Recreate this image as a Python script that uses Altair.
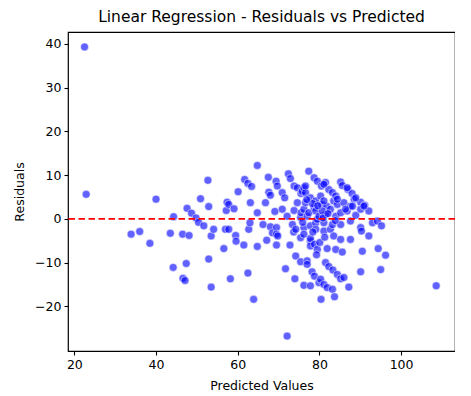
import altair as alt
import pandas as pd

predicted = [
    22.5, 22.9, 33.9, 36.0, 38.5, 40.0, 43.5, 44.3, 44.2, 46.5, 47.4, 46.6, 47.1, 47.6, 48.1,
    48.7, 49.8, 50.4, 50.9, 51.7, 52.7, 52.9, 52.9, 53.5, 53.5, 54.1, 56.6, 57.0, 57.2, 57.4,
    57.8, 57.8, 58.2, 59.1, 59.5, 59.6, 60.1, 61.5, 61.7, 62.5, 62.5, 62.7, 63.0, 63.1, 63.4,
    63.9, 64.8, 64.8, 64.8, 66.2, 66.8, 67.1, 67.5, 67.6, 68.0, 68.0, 68.5, 69.1, 69.4, 69.5,
    69.5, 69.5, 69.7, 69.8, 70.9, 70.9, 71.5, 71.7, 72.1, 72.1, 72.4, 72.8, 72.9, 73.4, 73.7,
    73.8, 73.8, 74.0, 74.2, 74.2, 74.6, 74.6, 75.4, 75.4, 75.4, 75.5, 75.5, 75.8, 76.2, 76.2,
    76.2, 76.2, 76.2, 76.6, 76.6, 76.6, 77.0, 77.0, 77.0, 77.4, 77.4, 77.8, 77.8, 77.8, 77.8,
    77.8, 77.8, 78.2, 78.7, 78.7, 78.8, 78.8, 79.1, 79.1, 79.1, 79.1, 79.5, 79.5, 79.5, 79.9,
    79.9, 80.1, 80.4, 80.3, 80.3, 80.5, 80.6, 81.1, 81.1, 81.1, 81.5, 81.5, 81.5, 81.8, 81.9,
    81.9, 82.3, 82.3, 82.7, 82.7, 83.2, 83.2, 83.2, 83.3, 83.5, 83.5, 83.7, 84.0, 84.0, 84.0,
    84.4, 84.4, 85.2, 85.2, 85.2, 85.2, 85.2, 85.6, 85.6, 86.0, 86.0, 86.8, 87.0, 87.2, 87.6,
    87.6, 87.6, 88.0, 88.5, 88.9, 90.1, 90.1, 90.1, 90.1, 90.3, 90.5, 91.1, 92.1, 92.1, 93.0,
    94.2, 94.4, 95.0, 95.2, 96.2, 108.6, 86.8, 88.9, 90.9, 81.1, 84.4, 86.4, 88.1, 81.1, 80.7,
    78.3, 79.6, 80.9, 82.1, 76.9, 75.9, 78.4, 81.3, 83.9, 79.3,
]
residuals = [
    39.3, 5.6, -3.5, -2.9, -5.6, 4.5, -3.3, 0.5, -11.1, -3.5, -10.2, -13.6, -14.1, 2.4, -3.8,
    1.3, 0.2, -0.8, 4.6, -1.6, 8.8, 2.8, -9.2, -15.6, -3.9, -2.4, -6.8, -2.4, 1.9, 3.8,
    3.3, -2.4, -13.7, 2.3, -3.8, -5.1, 6.2, -6.0, 9.0, 8.1, -12.4, -2.4, -0.9, 3.7, 7.4,
    -18.4, 12.2, 1.4, -6.3, -1.3, 3.7, -4.9, 9.5, 6.1, 5.4, -1.8, -3.2, 1.7, 8.6, -2.0,
    -6.0, -3.5, 7.5, -3.9, 6.0, 2.2, 4.8, -11.4, 0.6, -26.8, 10.3, -6.0, 9.2, -1.3, -3.0,
    7.5, 1.9, -13.7, -2.4, -8.5, 7.1, 3.7, 0.3, -4.3, -9.8, 5.8, 1.4, 6.3, -2.0, 7.1,
    2.2, -3.5, -15.2, 6.0, 3.7, 7.5, -9.6, 0.6, -10.4, 10.9, 1.4, 4.8, -5.1, -15.3, -6.2,
    -4.5, -1.6, -12.1, 9.4, 2.6, -5.8, -13.1, -0.9, 4.1, 1.8, -2.4, 8.6, -0.1, -7.0, -14.6,
    0.6, -5.4, -18.4, 5.2, -13.8, 7.5, 3.3, -0.9, -2.8, -15.0, 8.3, 1.0, -10.0, 2.9, -6.8,
    -15.7, 6.7, -10.9, 2.2, -2.4, 6.0, -1.3, -16.1, -11.7, 4.1, -3.9, -17.8, 5.2, 0.6, -7.0,
    3.3, -12.7, 8.4, 1.4, -1.3, -4.7, -13.7, 7.6, -7.6, 3.7, -13.4, 1.8, 6.7, -15.6, 2.9,
    -0.5, -4.7, 5.8, 4.5, 0.8, 3.8, 2.2, -2.0, -12.1, -2.8, -7.4, 3.1, 1.8, -3.9, -0.9,
    -0.5, -6.8, -11.6, -1.6, -8.3, -15.3, 7.1, 4.8, 2.9, 7.9, 4.5, 2.2, 2.9, 4.1, 1.8,
    3.5, 3.0, 0.2, 1.2, 4.4, -0.8, -3.0, -4.2, -0.4, -8.2,
]
x_ticks = [20, 40, 60, 80, 100]
y_ticks = [-20, -10, 0, 10, 20, 30, 40]

df = pd.DataFrame({"Predicted": predicted, "Residual": residuals})

FONT = "DejaVu Sans"

points = alt.Chart(df).mark_circle(
    size=64, color="#0000ff", fillOpacity=0.62, stroke="white", strokeWidth=0.6, strokeOpacity=0.9
).encode(
    x=alt.X("Predicted:Q",
            scale=alt.Scale(domain=[18.45, 113.2], nice=False, zero=False),
            axis=alt.Axis(values=x_ticks, title="Predicted Values", format="d")),
    y=alt.Y("Residual:Q",
            scale=alt.Scale(domain=[-30.2, 42.7], nice=False, zero=False),
            axis=alt.Axis(values=y_ticks, title="Residuals", format="d")),
)

zero_line = alt.Chart(pd.DataFrame({"y": [0]})).mark_rule(
    color="red", strokeDash=[6.5, 3.5], strokeWidth=1.7
).encode(y="y:Q")

chart = alt.layer(points, zero_line).properties(
    width=387,
    height=319,
    title=alt.TitleParams("Linear Regression - Residuals vs Predicted", font=FONT,
                          fontSize=15.5, fontWeight="normal", color="black", offset=7),
    autosize=alt.AutoSizeParams(type="none"),
    padding={"left": 60, "top": 24, "right": 0, "bottom": 44},
).configure_view(
    stroke="black", strokeWidth=1.2
).configure_axis(
    grid=False, domain=False, tickColor="black", tickSize=4, tickWidth=1.1,
    labelFont=FONT, labelFontSize=12.5, labelColor="black", labelPadding=3,
    titleFont=FONT, titleFontSize=12.5, titleFontWeight="normal", titleColor="black",
).configure_axisX(titlePadding=9).configure_axisY(titlePadding=8)

chart.save("out.html", embed_options={"renderer": "svg", "actions": False})
